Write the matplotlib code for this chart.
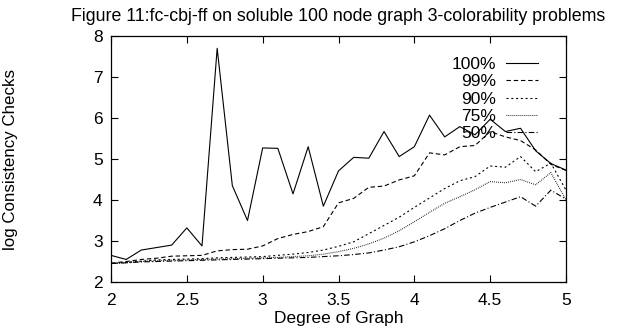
import matplotlib
matplotlib.use("Agg")
import matplotlib.pyplot as plt
import numpy as np

plt.rcParams['font.family'] = ['Liberation Sans', 'DejaVu Sans']

# data (degree 2.0 .. 5.0, step 0.1)
degree = [2.0, 2.1, 2.2, 2.3, 2.4, 2.5, 2.6, 2.7, 2.8, 2.9,
          3.0, 3.1, 3.2, 3.3, 3.4, 3.5, 3.6, 3.7, 3.8, 3.9,
          4.0, 4.1, 4.2, 4.3, 4.4, 4.5, 4.6, 4.7, 4.8, 4.9, 5.0]

p100 = [2.65, 2.55, 2.78, 2.84, 2.90, 3.32, 2.88, 7.70, 4.35, 3.50,
        5.27, 5.26, 4.15, 5.30, 3.85, 4.71, 5.04, 5.02, 5.67, 5.06,
        5.30, 6.07, 5.54, 5.79, 5.59, 5.97, 5.67, 5.75, 5.20, 4.89, 4.73]
p99 = [2.46, 2.50, 2.55, 2.58, 2.63, 2.64, 2.65, 2.76, 2.79, 2.80,
       2.88, 3.06, 3.16, 3.23, 3.35, 3.93, 4.04, 4.31, 4.34, 4.49,
       4.59, 5.15, 5.10, 5.30, 5.33, 5.67, 5.54, 5.45, 5.22, 4.87, 4.72]
p90 = [2.45, 2.48, 2.51, 2.54, 2.55, 2.56, 2.57, 2.59, 2.60, 2.61,
       2.62, 2.65, 2.68, 2.72, 2.78, 2.87, 2.98, 3.18, 3.38, 3.58,
       3.82, 4.05, 4.28, 4.47, 4.57, 4.83, 4.80, 5.06, 4.69, 4.90, 4.24]
p75 = [2.45, 2.47, 2.50, 2.52, 2.53, 2.54, 2.55, 2.56, 2.57, 2.58,
       2.59, 2.60, 2.62, 2.64, 2.68, 2.74, 2.82, 2.93, 3.07, 3.25,
       3.47, 3.70, 3.92, 4.08, 4.25, 4.45, 4.42, 4.50, 4.37, 4.67, 4.00]
p50 = [2.45, 2.47, 2.49, 2.50, 2.51, 2.52, 2.53, 2.54, 2.55, 2.56,
       2.57, 2.58, 2.59, 2.60, 2.62, 2.64, 2.67, 2.71, 2.78, 2.86,
       2.98, 3.13, 3.30, 3.50, 3.68, 3.82, 3.95, 4.08, 3.85, 4.24, 4.02]

labels = ['100%', '99%', '90%', '75%', '50%']
styles = ['-', (0, (4, 2.5)), (0, (1.8, 2.5)), (0, (0.7, 1.1)), (0, (5, 2, 1, 2))]

FS = 12.5

fig = plt.figure(figsize=(6.18, 3.28), dpi=100)
ax = fig.add_axes([0.1796, 0.1402, 0.7363, 0.75])

for ys, lab, ls in zip([p100, p99, p90, p75, p50], labels, styles):
    ax.plot(degree, ys, color='black', linestyle=ls, linewidth=0.8, label=lab)

ax.set_xlim(2, 5)
ax.set_ylim(2, 8)
ax.set_xticks([2, 2.5, 3, 3.5, 4, 4.5, 5])
ax.set_xticklabels(['2', '2.5', '3', '3.5', '4', '4.5', '5'])
ax.set_yticks([2, 3, 4, 5, 6, 7, 8])
ax.tick_params(direction='in', top=True, right=True, length=5, width=0.8,
               labelsize=FS)
ax.tick_params(axis='x', pad=8)
ax.tick_params(axis='y', pad=6)
for sp in ax.spines.values():
    sp.set_linewidth(0.9)

ax.set_title('Figure 11:fc-cbj-ff on soluble 100 node graph 3-colorability problems',
             fontsize=12.8, pad=11)
ax.set_xlabel('Degree of Graph', fontsize=FS, labelpad=2)
ax.set_ylabel('log Consistency Checks', fontsize=12.2)
ax.yaxis.set_label_coords(-0.205, 0.5)

ax.legend(loc='upper right', bbox_to_anchor=(0.958, 0.95), frameon=False,
          markerfirst=False, fontsize=FS, handlelength=1.85, handletextpad=0.6,
          labelspacing=0.12, borderpad=0)

fig.savefig('out.png', dpi=100)
